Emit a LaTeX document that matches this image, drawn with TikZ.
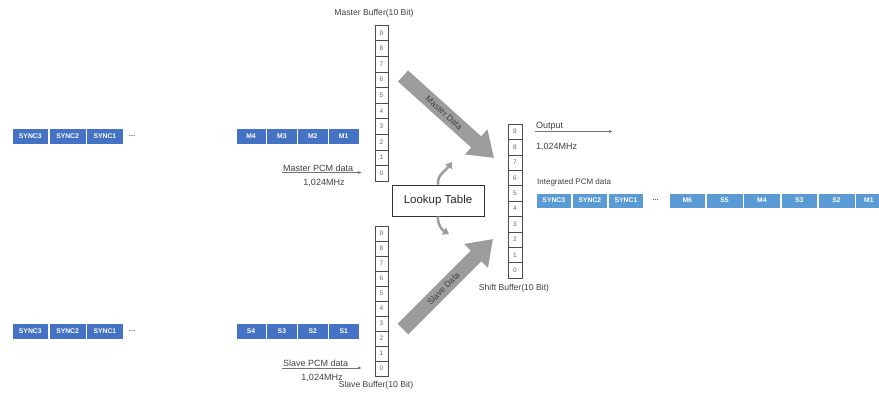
\documentclass[tikz,border=0pt]{standalone}
\usepackage{fontspec}
\setmainfont{Liberation Sans}
\usetikzlibrary{positioning, arrows.meta}

\definecolor{pcmblue}{HTML}{4472C4}
\definecolor{outblue}{HTML}{5B9BD5}
\definecolor{arrowgray}{HTML}{9C9C9C}

\begin{document}
\begin{tikzpicture}[
	x=1pt, y=-1pt,
	cell/.style={
		draw=black!70,
		line width=0.5pt,
		minimum width=13pt,
		minimum height=#1,
		inner sep=0pt,
		text=black!60,
		font=\fontsize{6.5}{7}\selectfont
	},
	cell/.default=15.6pt,
	pcm/.style={
		draw=white,
		line width=0.6pt,
		fill=pcmblue,
		text=white,
		minimum width=#1,
		minimum height=16pt,
		inner sep=0pt,
		font=\fontsize{6.8}{8}\bfseries\selectfont
	},
	pcm/.default=36.7pt,
	outpcm/.style={
		pcm=#1,
		fill=outblue,
		minimum height=15pt
	},
	outpcm/.default=35.5pt,
	label/.style={font=\fontsize{9}{10}\selectfont, text=black!75, inner sep=1pt},
	dots/.style={font=\fontsize{8}{9}\selectfont, inner sep=0pt},
	arrow/.style={-{Latex[length=4pt, width=3pt]}, black!55, line width=0.8pt},
	bigarrow/.style={line width=15pt, arrowgray, -{Triangle[length=24pt, width=32pt]}},
	bigtext/.style={font=\fontsize{8.5}{9}\selectfont, text=black!75, inner sep=0pt},
	curved/.style={line width=2.5pt, arrowgray, -{Triangle[length=6pt, width=8pt]}}
	]
	\useasboundingbox (0,0) rectangle (879,394);
	
	% ======================
	% Master input
	% ======================
	\node (msync3) [pcm] at (30.3,136) {SYNC3};
	\node (msync2) [pcm, right=0pt of msync3] {SYNC2};
	\node (msync1) [pcm, right=0pt of msync2] {SYNC1};
	\node (mdots) [dots, right=5pt of msync1] {...};
	
	\node (m4) [pcm=30.3pt] at (251,136) {M4};
	\node (m3) [pcm=30.3pt, right=0pt of m4] {M3};
	\node (m2) [pcm=30.3pt, right=0pt of m3] {M2};
	\node (m1) [pcm=30.3pt, right=0pt of m2] {M1};
	
	\coordinate (minstart) at (282,172.5);
	\coordinate (minend) at (362,172.5);
	\draw[arrow] (minstart) -- (minend);
	\node (mpcm) [label, above=0pt of minstart, anchor=south west] {Master PCM data};
	\node (mfreq) [label, anchor=center] at (324,182.5) {1,024MHz};
	
	% Master buffer
	\foreach \i in {0,...,9}
		\node (mbuf\i) [cell] at (381.5, 173.2-15.6*\i) {\i};
	\node (mbuflabel) [label, font=\fontsize{8.6}{10}\selectfont] at (374,13) {Master Buffer(10 Bit)};
	
	% ======================
	% Slave input
	% ======================
	\node (ssync3) [pcm] at (30.3,331.5) {SYNC3};
	\node (ssync2) [pcm, right=0pt of ssync3] {SYNC2};
	\node (ssync1) [pcm, right=0pt of ssync2] {SYNC1};
	\node (sdots) [dots, right=5pt of ssync1] {...};
	
	\node (s4) [pcm=30.3pt] at (251,331.5) {S4};
	\node (s3) [pcm=30.3pt, right=0pt of s4] {S3};
	\node (s2) [pcm=30.3pt, right=0pt of s3] {S2};
	\node (s1) [pcm=30.3pt, right=0pt of s2] {S1};
	
	\coordinate (sinstart) at (282,368);
	\coordinate (sinend) at (362,368);
	\draw[arrow] (sinstart) -- (sinend);
	\node (spcm) [label, above=0pt of sinstart, anchor=south west] {Slave PCM data};
	\node (sfreq) [label, anchor=center] at (322,377.5) {1,024MHz};
	
	% Slave buffer
	\foreach \i in {0,...,9}
		\node (sbuf\i) [cell=15pt] at (381.5, 368.5-15*\i) {\i};
	\node (sbuflabel) [label, font=\fontsize{8.6}{10}\selectfont] at (376,385) {Slave Buffer(10 Bit)};
	
	% ======================
	% Lookup table
	% ======================
	\node (lookup) [draw=black!80, line width=0.6pt, minimum width=92pt, minimum height=31pt,
		font=\fontsize{11.5}{13}\selectfont, text=black!85] at (438,200.5) {Lookup Table};
	\coordinate (lutup) at (452,162);
	\coordinate (lutdown) at (449,234);
	\draw[curved] (lookup.north) to[out=95, in=-125] (lutup);
	\draw[curved] (lookup.south) to[out=-95, in=150] (lutdown);
	
	% ======================
	% Shift buffer
	% ======================
	\foreach \i in {0,...,9}
		\node (shbuf\i) [cell=15.4pt, minimum width=14pt] at (515, 270.3-15.4*\i) {\i};
	\node (shlabel) [label, font=\fontsize{8.6}{10}\selectfont] at (514,288.5) {Shift Buffer(10 Bit)};
	
	% Master / slave data
	\coordinate (mtail) at (403,76);
	\coordinate (mtip) at (494,158);
	\draw[bigarrow] (mtail) -- node[pos=0.45, sloped, bigtext] {Master Data} (mtip);
	
	\coordinate (stail) at (403,329);
	\coordinate (stip) at (493,239);
	\draw[bigarrow] (stail) -- node[pos=0.45, sloped, bigtext] {Slave Data} (stip);
	
	% ======================
	% Output
	% ======================
	\coordinate (outstart) at (535,131.5);
	\coordinate (outend) at (613,131.5);
	\draw[arrow] (outstart) -- (outend);
	\node (outlabel) [label, above=0pt of outstart, anchor=south west] {Output};
	\node (outfreq) [label, anchor=west] at (535,147) {1,024MHz};
	
	\node (intlabel) [label, font=\fontsize{8}{9}\selectfont, anchor=west] at (536,182) {Integrated PCM data};
	
	\node (osync3) [outpcm] at (553.8,200.5) {SYNC3};
	\node (osync2) [outpcm, right=0pt of osync3] {SYNC2};
	\node (osync1) [outpcm, right=0pt of osync2] {SYNC1};
	\node (odots) [dots, right=8pt of osync1] {...};
	\node (om6) [outpcm=36.7pt] at (687.3,200.5) {M6};
	\node (os5) [outpcm=36.7pt, right=0pt of om6] {S5};
	\node (om4) [outpcm=36.7pt, right=0pt of os5] {M4};
	\node (os3) [outpcm=36.7pt, right=0pt of om4] {S3};
	\node (os2) [outpcm=36.7pt, right=0pt of os3] {S2};
	\node (om1) [outpcm=27pt, right=0pt of os2] {M1};
	
\end{tikzpicture}
\end{document}
